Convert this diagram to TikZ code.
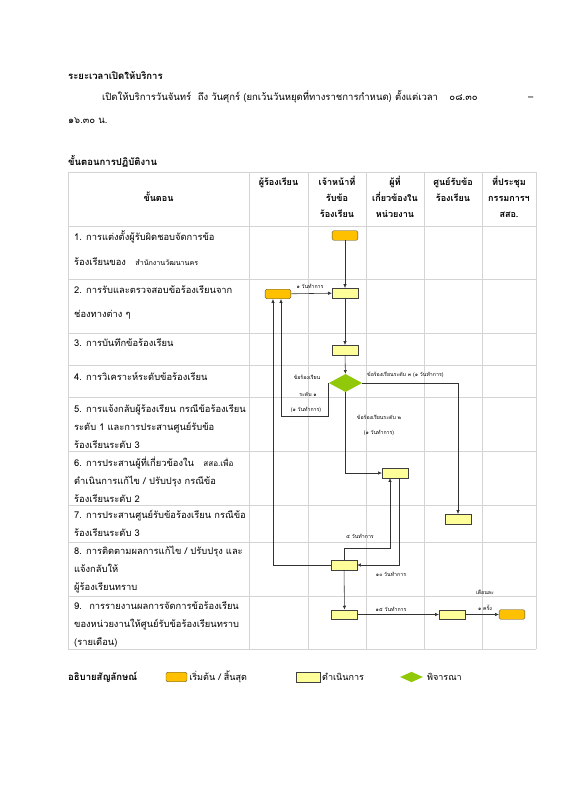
\documentclass[tikz,border=0pt]{standalone}
\usepackage{fontspec}
\setmainfont[Script=Thai]{Loma}
\definecolor{termorange}{RGB}{255,192,0}
\definecolor{procyellow}{RGB}{255,255,153}
\definecolor{decgreen}{RGB}{146,200,10}
\definecolor{gridgray}{RGB}{212,212,212}
\usetikzlibrary{arrows.meta,positioning,shapes.geometric,calc}

\begin{document}
\begin{tikzpicture}[
  x=1.05pt, y=-1.05pt,
  every node/.style={font=\fontsize{9.5}{11}\selectfont, inner sep=0pt},
  gridline/.style={draw=gridgray, line width=0.6pt},
  headtext/.style={align=center, anchor=base, font=\bfseries\fontsize{9.5}{17.3}\selectfont},
  steptext/.style={align=left, anchor=base west, font=\fontsize{9.8}{18.6}\selectfont},
  termbox/.style={draw=black!70, fill=termorange, rounded corners=1.5pt, minimum width=27pt, minimum height=10pt},
  procbox/.style={draw=black!75, fill=procyellow, minimum width=27pt, minimum height=10pt},
  decbox/.style={diamond, fill=decgreen, minimum width=35pt, minimum height=19pt},
  flow/.style={draw=black!80, line width=0.6pt, -{Latex[length=4pt,width=3.5pt]}},
  timetext/.style={font=\fontsize{5.5}{7}\selectfont},
]
  \useasboundingbox (0,0) rectangle (566,800);

  % Opening hours
  \node[anchor=base west, font=\bfseries\fontsize{10}{12}\selectfont] (hours) at (68,80) {ระยะเวลาเปิดให้บริการ};
  \node[anchor=base west, font=\fontsize{10}{12}\selectfont] (hoursa) at (102,101)
    {เปิดให้บริการวันจันทร์~ ถึง วันศุกร์ (ยกเว้นวันหยุดที่ทางราชการกำหนด) ตั้งแต่เวลา\hspace{12pt}๐๘.๓๐\hspace{53pt}–};
  \node[anchor=base west, font=\fontsize{10}{12}\selectfont] (hoursb) at (68,124) {๑๖.๓๐ น.};

  % Procedure table
  \node[anchor=base west, font=\bfseries\fontsize{10}{12}\selectfont] (proc) at (68,166) {ขั้นตอนการปฏิบัติงาน};
  \foreach \yy in {172,226,279,333,365,397,451,505,542,596,649}
    \draw[gridline] (68,\yy) -- (536,\yy);
  \foreach \xx in {68,249,308,366,424,482,536}
    \draw[gridline] (\xx,172) -- (\xx,649);

  % Header row (base = last line)
  \node[headtext] (hstep) at (158.5,202) {ขั้นตอน};
  \node[headtext] (hcomp) at (278.5,186) {ผู้ร้องเรียน};
  \node[headtext] (hstaff) at (337,218) {เจ้าหน้าที่\\รับข้อ\\ร้องเรียน};
  \node[headtext] (hunit) at (395,218) {ผู้ที่\\เกี่ยวข้องใน\\หน่วยงาน};
  \node[headtext] (hcent) at (453,202) {ศูนย์รับข้อ\\ร้องเรียน};
  \node[headtext] (hmeet) at (509,218) {ที่ประชุม\\กรรมการฯ\\สสอ.};

  % Step texts (base = last line)
  \node[steptext, font=\fontsize{9.8}{25.7}\selectfont] (st1) at (74,265)
    {1. การแต่งตั้งผู้รับผิดชอบจัดการข้อ\\ร้องเรียนของ~~ {\fontsize{7.5}{9}\selectfont สำนักงานวัฒนานคร}};
  \node[steptext, font=\fontsize{9.8}{25.2}\selectfont] (st2) at (74,317)
    {2. การรับและตรวจสอบข้อร้องเรียนจาก\\ช่องทางต่าง ๆ};
  \node[steptext] (st3) at (74,346) {3. การบันทึกข้อร้องเรียน};
  \node[steptext] (st4) at (74,380) {4. การวิเคราะห์ระดับข้อร้องเรียน};
  \node[steptext] (st5) at (74,448)
    {5. การแจ้งกลับผู้ร้องเรียน กรณีข้อร้องเรียน\\ระดับ 1 และการประสานศูนย์รับข้อ\\ร้องเรียนระดับ 3};
  \node[steptext] (st6) at (74,502)
    {6. การประสานผู้ที่เกี่ยวข้องใน~~ {\fontsize{8.5}{9}\selectfont สสอ.เพื่อ}\\ดำเนินการแก้ไข / ปรับปรุง กรณีข้อ\\ร้องเรียนระดับ 2};
  \node[steptext] (st7) at (74,536) {7. การประสานศูนย์รับข้อร้องเรียน กรณีข้อ\\ร้องเรียนระดับ 3};
  \node[steptext] (st8) at (74,590) {8. การติดตามผลการแก้ไข / ปรับปรุง และ\\แจ้งกลับให้\\ผู้ร้องเรียนทราบ};
  \node[steptext] (st9) at (74,645)
    {9.~ การรายงานผลการจัดการข้อร้องเรียน\\ของหน่วยงานให้ศูนย์รับข้อร้องเรียนทราบ\\(รายเดือน)};

  % Flow shapes
  \node[termbox] (start) at (345,235.5) {};
  \node[termbox] (comp) at (278,294) {};
  \node[procbox] (recv) at (345,293) {};
  \node[procbox] (rec) at (345,350) {};
  \node[decbox] (chk) at (345.5,383) {};
  \node[procbox] (lvtwo) at (395,473) {};
  \node[procbox] (lvthree) at (458,519) {};
  \node[procbox] (follow) at (344,565) {};
  \node[procbox] (report) at (344.5,614.5) {};
  \node[procbox] (cent) at (452,614.5) {};
  \node[termbox] (stop) at (512,614.5) {};

  % Corner points
  \coordinate (kone) at (281,416);
  \coordinate (kfive) at (390,548);
  \coordinate (kten) at (399,565);
  \coordinate (kback) at (273,565);

  % Connectors
  \draw[flow] (start) -- (recv);
  \draw[flow] (comp) -- (recv);
  \draw[flow] (recv) -- (rec);
  \draw[flow] (rec) -- (chk);
  \draw[flow] (chk.east) -| (lvthree);
  \draw[flow] (chk.west) |- (kone) -- (kone |- comp.south);
  \draw[flow] (chk.south) |- (lvtwo);
  \draw[flow] (follow.north) |- (kfive) -- (kfive |- lvtwo.south);
  \draw[flow] (kten |- lvtwo.south) |- (follow.east);
  \draw[flow] (follow.west) -- (kback) -- (kback |- comp.south);
  \draw[flow] (follow) -- (report);
  \draw[flow] (report) -- (cent);
  \draw[flow] (cent) -- (stop);

  % Time labels
  \node[timetext] (tone) at (310,286) {๑ วันทำการ};
  \node[timetext, anchor=west] (tlvthree) at (367,375) {ข้อร้องเรียนระดับ ๓ (๑ วันทำการ)};
  \node[timetext] (tlvonea) at (307,377) {ข้อร้องเรียน};
  \node[timetext] (tlvoneb) at (308,394) {ระดับ ๑};
  \node[timetext] (tlvonec) at (306,410) {(๑ วันทำการ)};
  \node[timetext] (tlvtwoa) at (379,417) {ข้อร้องเรียนระดับ ๒};
  \node[timetext] (tlvtwob) at (379,433) {(๑ วันทำการ)};
  \node[timetext] (tfive) at (360,536) {๕ วันทำการ};
  \node[timetext] (tten) at (391,574) {๑๐ วันทำการ};
  \node[timetext] (tfifteen) at (391,609) {๑๕ วันทำการ};
  \node[timetext] (tmontha) at (485,592) {เดือนละ};
  \node[timetext] (tmonthb) at (485,608) {๑ ครั้ง};

  % Legend
  \node[anchor=base west, font=\bfseries\fontsize{10}{12}\selectfont] (legend) at (68,680) {อธิบายสัญลักษณ์};
  \node[termbox, minimum width=22pt] (lgterm) at (176.5,677) {};
  \node[anchor=west, right=2pt of lgterm] (lgtermt) {เริ่มต้น / สิ้นสุด};
  \node[procbox, minimum width=25pt] (lgproc) at (308,677) {};
  \node[anchor=west, right=2pt of lgproc] (lgproct) {ดำเนินการ};
  \node[decbox, minimum width=24pt, minimum height=11pt] (lgdec) at (411.5,677) {};
  \node[anchor=west, right=4pt of lgdec] (lgdect) {พิจารณา};
\end{tikzpicture}
\end{document}
